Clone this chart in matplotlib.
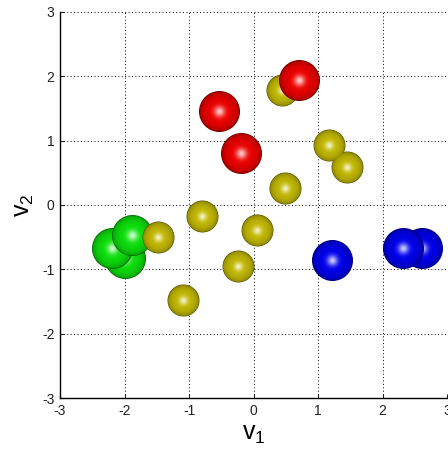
import numpy as np
import matplotlib.pyplot as plt

plt.rcParams['font.family'] = ['Liberation Sans', 'DejaVu Sans']
plt.rcParams['axes.unicode_minus'] = False

# sphere centres
green_x = [-1.99, -2.20, -1.88]
green_y = [-0.82, -0.67, -0.47]
yellow_x = [0.44, 1.17, 1.45, 0.49, -0.80, 0.06, -1.48, -0.24, -1.09]
yellow_y = [1.79, 0.93, 0.59, 0.26, -0.17, -0.39, -0.50, -0.95, -1.48]
red_x = [-0.53, 0.71, -0.19]
red_y = [1.46, 1.94, 0.80]
blue_x = [2.61, 1.22, 2.32]
blue_y = [-0.67, -0.85, -0.67]

ticks = [-3, -2, -1, 0, 1, 2, 3]


def draw_spheres(ax, xs, ys, diam, base, z, nl=30):
    # fake 3d shading: concentric discs, dark rim -> bright centre
    base = np.array(base)
    for k in range(nl):
        r = 1.0 - k / nl
        diff = 0.45 + 0.55 * (1 - r**2) ** 0.3
        spec = 0.8 * (1 - r**2) ** 14
        col = np.clip(base * diff + spec * (1 - base * diff), 0, 1)
        ax.scatter(xs, ys, s=(diam * r) ** 2, color=col, linewidths=0, zorder=z + k * 0.001)


fig = plt.figure(figsize=(4.48, 4.53), dpi=100)
ax = fig.add_axes([0.134, 0.121, 0.864, 0.853])

big = 41 * 0.72
small = 32 * 0.72
# draw back to front
draw_spheres(ax, blue_x[:1], blue_y[:1], big, (0.0, 0.0, 0.95), 3)
for i in range(3):
    draw_spheres(ax, green_x[i:i + 1], green_y[i:i + 1], big, (0.05, 0.9, 0.05), 4 + i * 0.1)
draw_spheres(ax, yellow_x, yellow_y, small, (0.78, 0.74, 0.02), 5)
draw_spheres(ax, red_x, red_y, big, (0.95, 0.0, 0.0), 6)
draw_spheres(ax, blue_x[1:], blue_y[1:], big, (0.0, 0.0, 0.95), 7)

ax.set_xlim(-3, 3)
ax.set_ylim(-3, 3)
ax.set_xticks(ticks)
ax.set_yticks(ticks)
ax.grid(True, color='black', linestyle=(0, (1, 2.5)), linewidth=0.7)
ax.set_axisbelow(True)
ax.spines['top'].set_visible(False)
ax.spines['right'].set_visible(False)
ax.spines['left'].set_linewidth(1.0)
ax.spines['bottom'].set_linewidth(1.0)
ax.tick_params(direction='in', length=3, labelsize=10, colors='#222222', pad=4)
ax.set_xlabel(r'$\mathregular{v_1}$', fontsize=18, labelpad=3)
ax.set_ylabel(r'$\mathregular{v_2}$', fontsize=18, labelpad=4)

fig.savefig('out.png', dpi=100)
